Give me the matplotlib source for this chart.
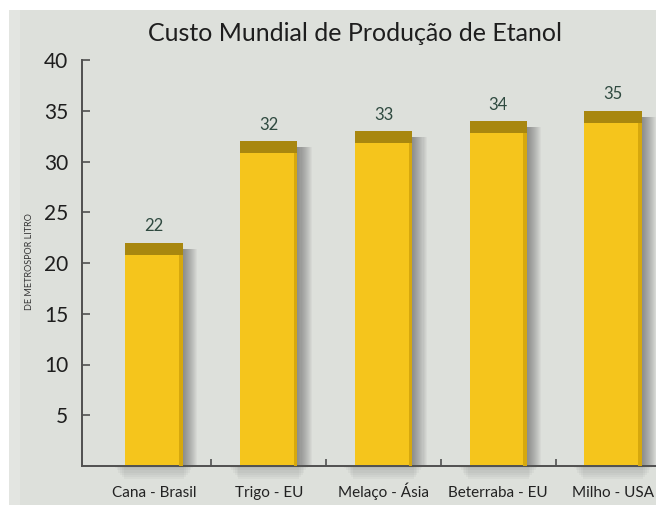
import numpy as np
import matplotlib.pyplot as plt
from matplotlib.patches import Rectangle

# dados: custo de produção por região
regioes = ["Cana - Brasil", "Trigo - EU", "Melaço - Ásia", "Beterraba - EU", "Milho - USA"]
custos = [22, 32, 33, 34, 35]
marcas_y = [5, 10, 15, 20, 25, 30, 35, 40]

fundo = "#dde0db"
amarelo = "#f5c51c"
borda = "#d6a80e"
topo = "#a8870f"
texto_valor = "#2f4a40"

plt.rcParams['font.family'] = ['Lato', 'DejaVu Sans']

fig = plt.figure(figsize=(6.56, 5.05), dpi=100)
fig.patch.set_facecolor(fundo)

# faixas claras na margem
fig.patches.append(Rectangle((0, 1 - 10 / 505), 1, 10 / 505, transform=fig.transFigure,
                             facecolor="white", edgecolor="none", zorder=0))
fig.patches.append(Rectangle((0, 0), 9 / 656, 1, transform=fig.transFigure,
                             facecolor="white", edgecolor="none", zorder=0))
fig.patches.append(Rectangle((9 / 656, 0), 11 / 656, 1 - 10 / 505, transform=fig.transFigure,
                             facecolor="#e3e5e1", edgecolor="none", zorder=0))

ax = fig.add_axes([82 / 656, 39 / 505, 1 - 82 / 656, 406 / 505])
ax.set_facecolor("none")

x = np.arange(len(regioes))
larg = 0.5
altura_topo = 1.2

# sombra difusa à direita: faixas sobrepostas, mais densas junto à barra
for k in range(14):
    ax.bar(x + larg / 2, [c - 0.6 for c in custos], width=0.009 * (k + 1), color="#3c3c3c",
           alpha=0.045, align="edge", zorder=1, clip_on=False, linewidth=0)
# sombra sob a base
for k in range(6):
    ax.bar(x, [0.22 * (k + 1)] * len(x), bottom=[-0.22 * (k + 1)] * len(x),
           width=larg + 0.03 * (6 - k), color="#3c3c3c", alpha=0.04, zorder=1,
           clip_on=False, linewidth=0)

# corpo da barra, borda direita e topo escuro
ax.bar(x, custos, width=larg, color=amarelo, zorder=2)
ax.bar(x + larg / 2 - 0.03, custos, width=0.03, color=borda, align="edge", zorder=3)
ax.bar(x, [altura_topo] * len(x), bottom=[c - altura_topo for c in custos], width=larg,
       color=topo, zorder=4)

for xi, c in zip(x, custos):
    ax.annotate(str(c), (xi, c), xytext=(0, 6), textcoords="offset points",
                ha="center", va="bottom", fontsize=12, color=texto_valor)

ax.set_xlim(-0.627, 4.375)
ax.set_ylim(0, 40)
ax.set_yticks(marcas_y)
ax.set_xticks(x)
ax.set_xticklabels(regioes, fontsize=11, color="#222222", va="baseline")
ax.set_xticks(x[:-1] + 0.5, minor=True)

for lado in ["top", "right"]:
    ax.spines[lado].set_visible(False)
for lado in ["left", "bottom"]:
    ax.spines[lado].set_color("#505050")
    ax.spines[lado].set_linewidth(1.4)
ax.spines["left"].set_bounds(0, 40)

ax.tick_params(axis="y", direction="in", length=6, width=1.2, color="#505050",
               pad=10, labelsize=15, labelcolor="#1e1e1e")
ax.tick_params(axis="x", which="major", length=0, pad=22)
ax.tick_params(axis="x", which="minor", direction="in", length=5, width=1.2, color="#505050")

fig.text(355 / 656, 1 - 33 / 505, "Custo Mundial de Produção de Etanol",
         ha="center", va="center", fontsize=18, color="#1e1e1e")
fig.text(30 / 656, 1 - 262 / 505, "DE METROSPOR LITRO", rotation=90,
         ha="center", va="center", fontsize=6.5, color="#333333")

fig.savefig("out.png", dpi=100, facecolor=fig.get_facecolor())
